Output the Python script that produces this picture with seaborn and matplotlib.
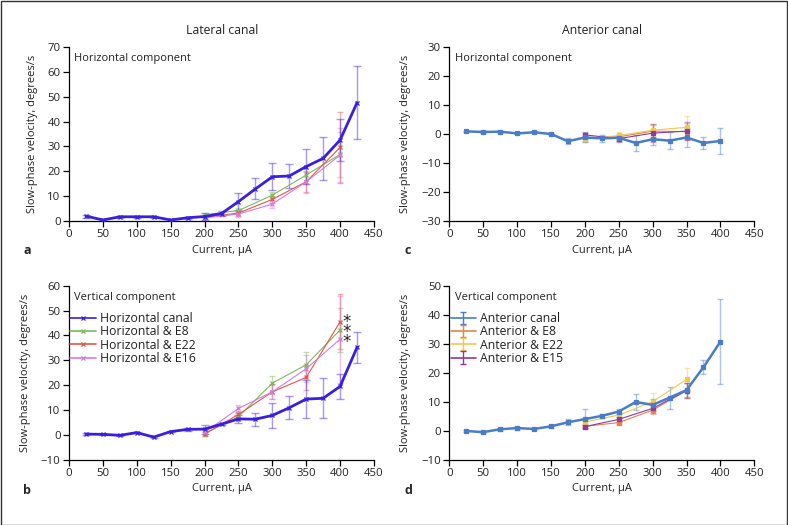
import numpy as np
import pandas as pd
import matplotlib
matplotlib.use("Agg")
import matplotlib.pyplot as plt
import seaborn as sns
from matplotlib.patches import Rectangle
from matplotlib.lines import Line2D

sns.set_style("ticks")
plt.rcParams['font.family'] = ['Open Sans', 'DejaVu Sans']

# ---------------- data ----------------
x_main = [25, 50, 75, 100, 125, 150, 175, 200, 225, 250, 275, 300, 325, 350, 375, 400, 425]
x_combo = [200, 250, 300, 350, 400]

# panel a: lateral canal, horizontal component
a_canal = [2.0, 0.4, 1.7, 1.7, 1.7, 0.4, 1.3, 1.8, 3.0, 7.8, 12.9, 17.8, 18.1, 21.9, 25.2, 32.6, 47.6]
a_canal_sd = [0.6, 0.3, 0.3, 0.3, 0.3, 0.3, 0.5, 1.5, 1.0, 3.5, 4.2, 5.4, 5.0, 7.0, 8.6, 8.5, 14.8]
a_e8 = [2.5, 4.2, 10.4, 18.5, 26.8]
a_e8_sd = [0.8, 1.0, 1.2, 3.5, 9.0]
a_e22 = [1.5, 3.2, 8.7, 15.8, 29.6]
a_e22_sd = [0.8, 1.0, 1.5, 4.0, 14.3]
a_e16 = [1.2, 2.8, 6.8, 15.8, 26.5]
a_e16_sd = [0.8, 1.2, 1.5, 4.5, 11.0]

# panel b: lateral canal, vertical component
b_canal = [0.3, 0.2, -0.2, 0.9, -0.9, 1.3, 2.2, 2.3, 4.3, 6.4, 6.3, 7.8, 10.9, 14.4, 14.7, 19.5, 35.2]
b_canal_sd = [0.3, 0.3, 0.3, 0.3, 0.3, 0.3, 0.5, 1.8, 0.5, 1.5, 2.6, 4.9, 4.7, 7.6, 8.0, 5.1, 6.2]
b_e8 = [0.5, 7.3, 20.8, 28.2, 42.2]
b_e8_sd = [0.8, 1.5, 3.0, 5.0, 9.0]
b_e22 = [0.3, 8.2, 17.3, 23.1, 45.5]
b_e22_sd = [0.8, 1.5, 3.0, 5.0, 11.0]
b_e16 = [1.0, 10.6, 17.3, 26.6, 38.5]
b_e16_sd = [0.8, 1.5, 3.0, 5.5, 17.5]

x_ant = [25, 50, 75, 100, 125, 150, 175, 200, 225, 250, 275, 300, 325, 350, 375, 400]
x_ant_combo = [200, 250, 300, 350]

# panel c: anterior canal, horizontal component
c_canal = [0.9, 0.7, 0.8, 0.2, 0.6, 0.0, -2.5, -1.2, -1.5, -1.3, -3.1, -1.8, -2.3, -1.2, -3.1, -2.4]
c_canal_sd = [0.3, 0.3, 0.3, 0.3, 0.4, 0.3, 1.0, 1.5, 1.2, 1.0, 2.8, 2.0, 3.0, 3.4, 2.0, 4.6]
c_e8 = [-1.5, -1.0, 1.0, 0.8]
c_e8_sd = [1.0, 1.0, 2.0, 3.0]
c_e22 = [-1.8, -0.5, 1.3, 2.3]
c_e22_sd = [1.0, 1.2, 2.0, 4.0]
c_e15 = [-0.3, -1.6, 0.3, 1.0]
c_e15_sd = [1.0, 1.0, 3.0, 3.0]

# panel d: anterior canal, vertical component
d_canal = [-0.1, -0.5, 0.5, 0.9, 0.6, 1.5, 2.9, 4.0, 5.1, 6.6, 9.9, 8.9, 11.4, 14.0, 21.9, 30.7]
d_canal_sd = [0.4, 0.3, 0.6, 0.5, 0.4, 0.4, 1.0, 3.4, 0.8, 1.0, 2.7, 2.0, 3.8, 2.5, 2.5, 14.7]
d_e8 = [1.5, 2.8, 7.1, 13.8]
d_e8_sd = [0.6, 0.8, 1.5, 2.5]
d_e22 = [3.0, 5.4, 10.0, 17.7]
d_e22_sd = [0.8, 1.0, 3.0, 4.0]
d_e15 = [1.4, 3.9, 7.7, 13.8]
d_e15_sd = [0.6, 0.8, 1.5, 2.5]

lat_names = ["Horizontal canal", "Horizontal & E8", "Horizontal & E22", "Horizontal & E16"]
ant_names = ["Anterior canal", "Anterior & E8", "Anterior & E22", "Anterior & E15"]
x_ticks = [0, 50, 100, 150, 200, 250, 300, 350, 400, 450]

# ---------------- styles ----------------
C_LAT = "#3A1FE0"
C_E8 = "#7DBA5A"
C_E22 = "#E2574C"
C_E16 = "#D77AE0"
C_ANT = "#4A7CC8"
C_AE8 = "#E0844A"
C_AE22 = "#F2C94E"
C_AE15 = "#8E3A9E"
TXT = "#222222"

fig = plt.figure(figsize=(7.88, 5.25), dpi=100)
W, H = 788, 525

def ax_at(l, r, t, b):
    return fig.add_axes([l / W, 1 - b / H, (r - l) / W, (b - t) / H])

ax_a = ax_at(69, 374, 47, 221)
ax_b = ax_at(69, 374, 285.7, 459.7)
ax_c = ax_at(449.3, 754.3, 47, 221)
ax_d = ax_at(449.3, 754.3, 285.7, 459.7)

def series(ax, x, y, sd, color, lw, marker, ms, cap=2.0, ealpha=0.45):
    df = pd.DataFrame({"x": x, "y": y})
    sns.lineplot(data=df, x="x", y="y", ax=ax, color=color, linewidth=lw,
                 marker=marker, markersize=ms, markeredgewidth=0.9,
                 markeredgecolor=color, legend=False, zorder=3)
    ax.errorbar(x, y, yerr=sd, fmt="none", ecolor=color, alpha=ealpha,
                elinewidth=1.0, capsize=cap, capthick=1.0, zorder=2)

# panel a
series(ax_a, x_combo, a_e8, a_e8_sd, C_E8, 0.8, "x", 3.5)
series(ax_a, x_combo, a_e22, a_e22_sd, C_E22, 0.8, "x", 3.5)
series(ax_a, x_combo, a_e16, a_e16_sd, C_E16, 0.8, "x", 3.5)
series(ax_a, x_main, a_canal, a_canal_sd, C_LAT, 2.0, "x", 3.5, cap=3)

# panel b
series(ax_b, x_combo, b_e8, b_e8_sd, C_E8, 0.8, "x", 3.5)
series(ax_b, x_combo, b_e22, b_e22_sd, C_E22, 0.8, "x", 3.5)
series(ax_b, x_combo, b_e16, b_e16_sd, C_E16, 0.8, "x", 3.5)
series(ax_b, x_main, b_canal, b_canal_sd, C_LAT, 2.0, "x", 3.5, cap=3)

# panel c
series(ax_c, x_ant_combo, c_e8, c_e8_sd, C_AE8, 0.8, "s", 2.5)
series(ax_c, x_ant_combo, c_e22, c_e22_sd, C_AE22, 0.8, "s", 2.5)
series(ax_c, x_ant_combo, c_e15, c_e15_sd, C_AE15, 0.8, "s", 2.5)
series(ax_c, x_ant, c_canal, c_canal_sd, C_ANT, 1.8, "s", 2.5, cap=2.5)

# panel d
series(ax_d, x_ant_combo, d_e8, d_e8_sd, C_AE8, 0.8, "s", 2.5)
series(ax_d, x_ant_combo, d_e22, d_e22_sd, C_AE22, 0.8, "s", 2.5)
series(ax_d, x_ant_combo, d_e15, d_e15_sd, C_AE15, 0.8, "s", 2.5)
series(ax_d, x_ant, d_canal, d_canal_sd, C_ANT, 1.8, "s", 2.5, cap=2.5)

# axes formatting
limits = {ax_a: (0, 70), ax_b: (-10, 60), ax_c: (-30, 30), ax_d: (-10, 50)}
for ax, (lo, hi) in limits.items():
    ax.set_xlim(0, 450)
    ax.set_ylim(lo, hi)
    ax.set_xticks(x_ticks)
    ax.set_yticks(np.arange(lo, hi + 1, 10))
    ax.tick_params(axis="both", labelsize=8.2, length=4, width=0.9, color="black",
                   labelcolor=TXT, pad=2)
    for s in ["top", "right"]:
        ax.spines[s].set_visible(False)
    for s in ["left", "bottom"]:
        ax.spines[s].set_color("black")
        ax.spines[s].set_linewidth(0.9)
    ax.set_xlabel("Current, μA", fontsize=8, color=TXT, labelpad=3)
    ax.set_ylabel("Slow-phase velocity, degrees/s", fontsize=8, color=TXT, labelpad=7)
    ax.yaxis.set_major_formatter(matplotlib.ticker.FuncFormatter(
        lambda v, p: ("\u2212%d" % abs(v)) if v < 0 else "%d" % v))

for ax, t, xo in [(ax_a, "Horizontal component", 0.016), (ax_c, "Horizontal component", 0.019),
                  (ax_b, "Vertical component", 0.016), (ax_d, "Vertical component", 0.019)]:
    ax.text(xo, 0.935, t, transform=ax.transAxes, fontsize=8, va="center", ha="left", color=TXT)

# legends
lat_cols = [C_LAT, C_E8, C_E22, C_E16]
hb = [Line2D([], [], color=c, lw=1.2, marker="x", markersize=3.5, markeredgewidth=0.9)
      for c in lat_cols]
leg_kw = dict(loc="upper left", bbox_to_anchor=(0.0, 0.855), frameon=False,
              fontsize=8.8, labelspacing=0.02, handlelength=2.1, handletextpad=0.35,
              borderpad=0.1, borderaxespad=0.0, labelcolor=TXT)
ax_b.legend(hb, lat_names, **leg_kw)

ant_cols = [C_ANT, C_AE8, C_AE22, C_AE15]
hd = [ax_d.errorbar([np.nan], [np.nan], yerr=[np.nan], fmt="-", color=c, lw=1.2,
                    capsize=2, elinewidth=1.0) for c in ant_cols]
ax_d.legend(hd, ant_names, **leg_kw)

# asterisks (one text, three lines)
ax_b.text(410, 35.3, "*\n*\n*", fontsize=12, ha="center", va="baseline", color=TXT,
          family="DejaVu Sans", linespacing=0.42)

# titles and panel letters
fig.text(222 / W, 1 - 31 / H, "Lateral canal", fontsize=8.8, ha="center", va="center", color=TXT)
fig.text(602 / W, 1 - 31 / H, "Anterior canal", fontsize=8.8, ha="center", va="center", color=TXT)
for lx, ly, t in [(27, 251, "a"), (27, 491, "b"), (408, 251, "c"), (408, 491, "d")]:
    fig.text(lx / W, 1 - ly / H, t, fontsize=9, fontweight="bold", ha="center", va="center")

fig.patches.append(Rectangle((0.5 / W, 0.5 / H), 1 - 1.5 / W, 1 - 1.5 / H, transform=fig.transFigure,
                             fill=False, edgecolor="#333333", linewidth=1.0))

fig.savefig("out.png", dpi=100)
